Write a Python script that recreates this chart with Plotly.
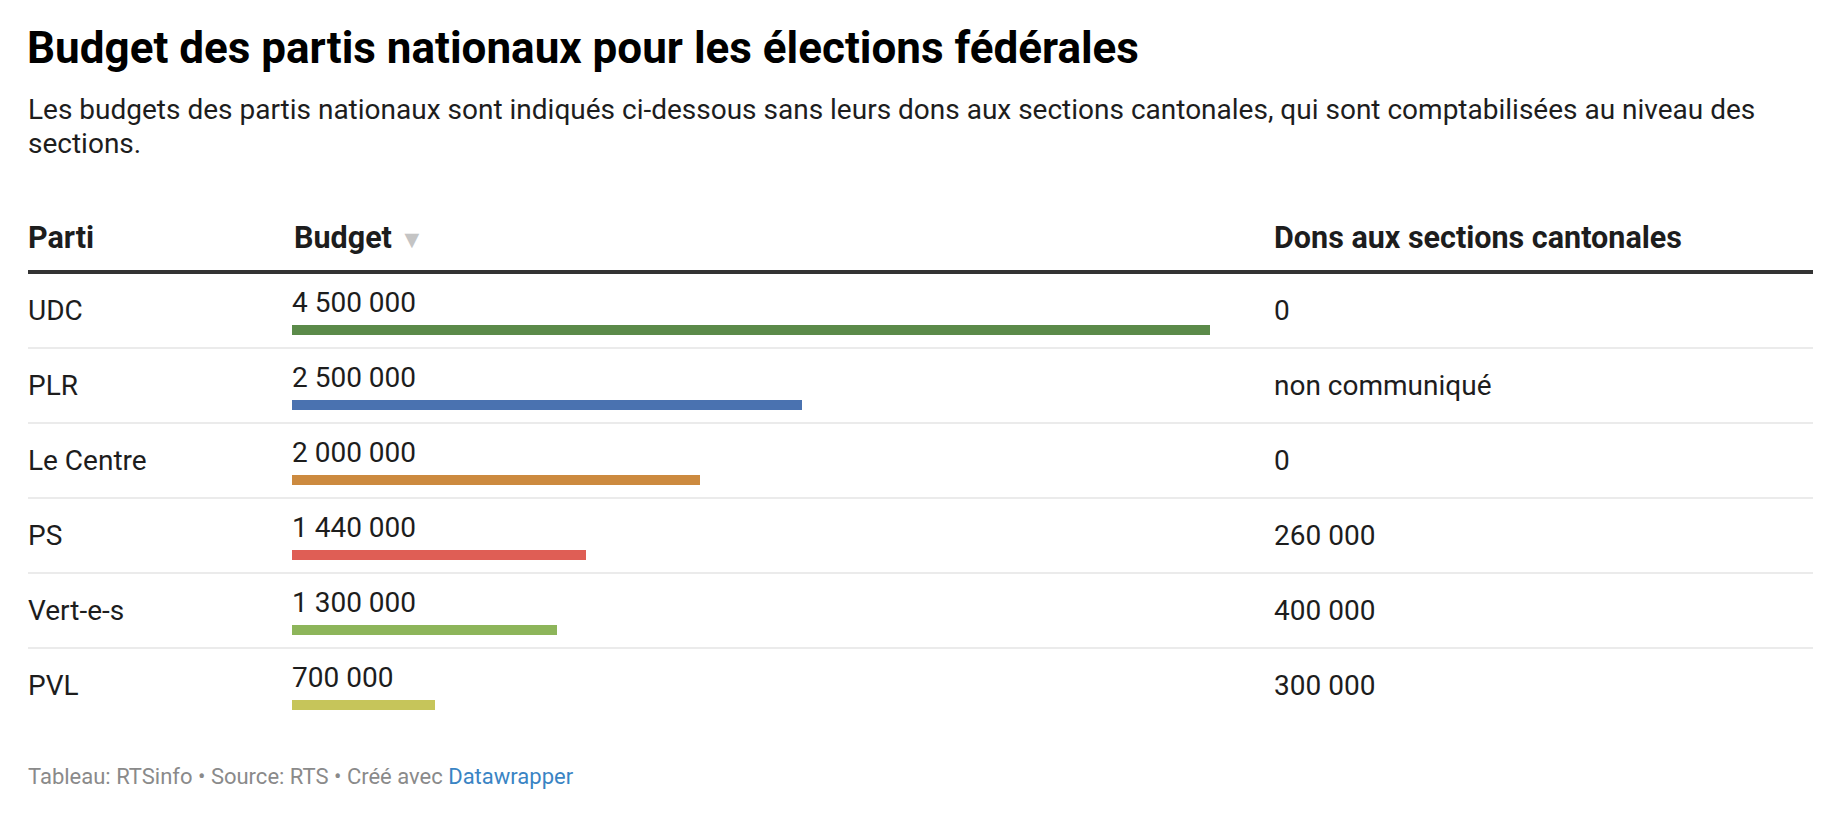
import plotly.graph_objects as go

# page is 1845x822; the browser adds an 8px body margin around the plot
W, H = 1845, 822
OFF = 8
FW, FH = W - 2 * OFF, H - 2 * OFF

parties = ["UDC", "PLR", "Le Centre", "PS", "Vert-e-s", "PVL"]
budget = [4500000, 2500000, 2000000, 1440000, 1300000, 700000]
dons = ["0", "non communiqué", "0", "260 000", "400 000", "300 000"]
bar_colors = ["#5b8a49", "#4a72b0", "#cc8a3f", "#df5e55", "#8db55a", "#c6c55a"]

title = "Budget des partis nationaux pour les élections fédérales"
subtitle = [
    "Les budgets des partis nationaux sont indiqués ci-dessous sans leurs dons aux sections cantonales, qui sont comptabilisées au niveau des",
    "sections.",
]
headers = ["Parti", "Budget", "Dons aux sections cantonales"]
footer = "Tableau: RTSinfo • Source: RTS • Créé avec <span style='color:#3a84c4'>Datawrapper</span>"

FONT = "Roboto"
TXT = "#1d1d1d"


def px(x):
    return (x - OFF) / FW


def py(y):
    return 1 - (y - OFF) / FH


def fmt(v):
    return f"{v:,}".replace(",", " ")


# row layout: bar centres 75 px apart, first at y=330 (page pixels)
ROW = 75.0
FIRST = 330.0
COL1, COL2, COL3, RIGHT = 26, 292, 1272, 1813

fig = go.Figure()
fig.add_trace(
    go.Bar(
        x=budget,
        y=parties,
        orientation="h",
        marker=dict(color=bar_colors, line=dict(width=0)),
        width=10 / ROW,
        hoverinfo="x+y",
        showlegend=False,
    )
)

annotations = []
annotations.append(dict(
    text=f"<b>{title}</b>", x=px(25), y=py(48), xref="paper", yref="paper",
    xanchor="left", yanchor="middle", showarrow=False,
    font=dict(family=FONT, size=44, color="#000000"),
))
for i, line in enumerate(subtitle):
    annotations.append(dict(
        text=line, x=px(COL1), y=py(109.5 + 34 * i), xref="paper", yref="paper",
        xanchor="left", yanchor="middle", showarrow=False,
        font=dict(family=FONT, size=28, color=TXT),
    ))

head_x = [COL1, COL2, COL3]
for h, hx in zip(headers, head_x):
    t = f"<b>{h}</b>"
    if h == "Budget":
        t += " <span style='color:#c4c4c4;font-size:25px'>▼</span>"
    annotations.append(dict(
        text=t, x=px(hx), y=py(237), xref="paper", yref="paper",
        xanchor="left", yanchor="middle", showarrow=False,
        font=dict(family=FONT, size=30.5, color=TXT),
    ))

for p, b, d in zip(parties, budget, dons):
    annotations.append(dict(
        text=p, x=px(COL1), y=p, xref="paper", yref="y", yshift=20,
        xanchor="left", yanchor="middle", showarrow=False,
        font=dict(family=FONT, size=28, color=TXT),
    ))
    annotations.append(dict(
        text=fmt(b), x=0, y=p, xref="x", yref="y", yshift=27.5, xshift=-2,
        xanchor="left", yanchor="middle", showarrow=False,
        font=dict(family=FONT, size=28, color=TXT),
    ))
    annotations.append(dict(
        text=d, x=px(COL3), y=p, xref="paper", yref="y", yshift=20,
        xanchor="left", yanchor="middle", showarrow=False,
        font=dict(family=FONT, size=28, color=TXT),
    ))

annotations.append(dict(
    text=footer, x=px(COL1), y=py(776), xref="paper", yref="paper",
    xanchor="left", yanchor="middle", showarrow=False,
    font=dict(family=FONT, size=22, color="#8a8a8a"),
))

shapes = [dict(
    type="line", xref="paper", yref="paper", x0=px(28), x1=px(RIGHT),
    y0=py(272), y1=py(272), line=dict(color="#333333", width=4),
)]
# thin separators between rows (not after the last one)
for i in range(len(parties) - 1):
    shapes.append(dict(
        type="line", xref="paper", yref="y", x0=px(28), x1=px(RIGHT),
        y0=i + 18 / ROW, y1=i + 18 / ROW, line=dict(color="#ebebeb", width=2),
    ))

top_idx = -(FIRST - OFF) / ROW
bot_idx = top_idx + FH / ROW

fig.update_layout(
    width=FW,
    height=FH,
    margin=dict(l=0, r=0, t=0, b=0),
    paper_bgcolor="#ffffff",
    plot_bgcolor="#ffffff",
    xaxis=dict(domain=[px(COL2), px(1210)], range=[0, max(budget)], visible=False, fixedrange=True),
    yaxis=dict(
        type="category", categoryorder="array", categoryarray=parties,
        range=[bot_idx, top_idx], domain=[0, 1], visible=False, fixedrange=True,
    ),
    annotations=annotations,
    shapes=shapes,
    bargap=0,
)

fig.write_html("out.html")
